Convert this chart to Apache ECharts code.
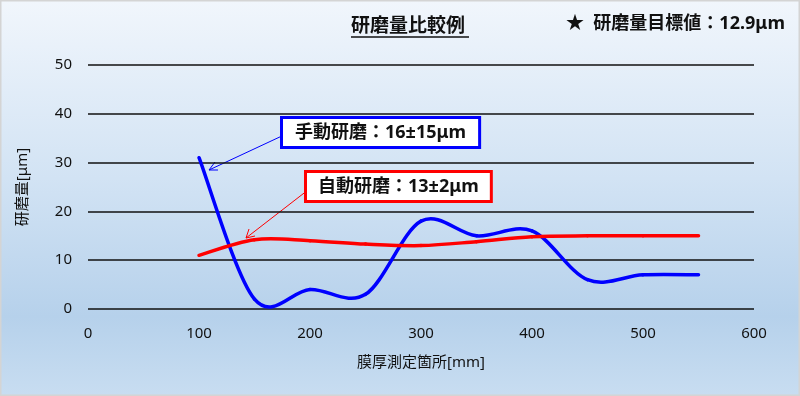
<!DOCTYPE html>
<html><head><meta charset="utf-8">
<script src="https://cdn.jsdelivr.net/npm/echarts@6/dist/echarts.min.js"></script>
<style>html,body{margin:0;padding:0;}#c{width:800px;height:396px;}</style>
</head><body><div id="c"></div>
<script>
const positions = [100, 150, 200, 250, 300, 350, 400, 450, 500, 550];
const manual = [31, 2, 4, 3, 18, 15, 16, 6, 7, 7];
const auto = [11, 14.2, 14, 13.3, 13, 13.8, 14.8, 15, 15, 15];
const yTicks = [0, 10, 20, 30, 40, 50];
const xTicks = [0, 100, 200, 300, 400, 500, 600];
const titleText = '研磨量比較例';
const targetText = '★  研磨量目標値：12.9μm';
const manualLabel = '手動研磨：16±15μm';
const autoLabel = '自動研磨：13±2μm';

const FONT = '"Noto Sans", "Noto Sans CJK JP", sans-serif';
const chart = echarts.init(document.getElementById('c'));

// Smooth curve (Catmull-Rom style, like spreadsheet smoothed lines) drawn through data via axis coords
function smoothSeries(name, xs, ys, color, z) {
  const n = xs.length;
  return {
    type: 'custom', name: name, z: z, silent: true, clip: false,
    data: xs.map((x, i) => [x, ys[i]]),
    encode: {x: 0, y: 1},
    renderItem: function (params, api) {
      const i = params.dataIndex;
      if (i >= n - 1) return {type: 'group', children: []};
      const P = k => { const j = Math.max(0, Math.min(n - 1, k)); return api.coord([xs[j], ys[j]]); };
      const p0 = P(i - 1), p1 = P(i), p2 = P(i + 1), p3 = P(i + 2);
      return {
        type: 'bezierCurve',
        shape: {
          x1: p1[0], y1: p1[1], x2: p2[0], y2: p2[1],
          cpx1: p1[0] + (p2[0] - p0[0]) / 6, cpy1: p1[1] + (p2[1] - p0[1]) / 6,
          cpx2: p2[0] - (p3[0] - p1[0]) / 6, cpy2: p2[1] - (p3[1] - p1[1]) / 6
        },
        style: {stroke: color, lineWidth: 3.5, fill: null, lineCap: 'round'}
      };
    }
  };
}

chart.setOption({
  animation: false,
  backgroundColor: {
    type: 'linear', x: 0, y: 0, x2: 0, y2: 1,
    colorStops: [
      {offset: 0, color: '#f1f6fc'},
      {offset: 0.45, color: '#d2e3f4'},
      {offset: 0.8, color: '#b6d1eb'},
      {offset: 1, color: '#c8ddf1'}
    ]
  },
  title: {
    text: titleText, left: 351, top: 17, padding: 0,
    textStyle: {fontFamily: FONT, fontSize: 19, fontWeight: 'bold', color: '#111'}
  },
  grid: {left: 88, right: 46, top: 65, bottom: 87},
  xAxis: {
    type: 'value', min: xTicks[0], max: xTicks[xTicks.length - 1], interval: 100,
    name: '膜厚測定箇所[mm]', nameLocation: 'middle', nameGap: 46,
    nameTextStyle: {fontFamily: FONT, fontSize: 15, color: '#111'},
    axisLine: {show: false}, axisTick: {show: false}, splitLine: {show: false},
    axisLabel: {fontFamily: FONT, fontSize: 15, color: '#111', margin: 17}
  },
  yAxis: {
    type: 'value', min: yTicks[0], max: yTicks[yTicks.length - 1], interval: 10,
    name: '研磨量[μm]', nameLocation: 'middle', nameGap: 58, nameRotate: 90,
    nameTextStyle: {fontFamily: FONT, fontSize: 15, color: '#111'},
    axisLine: {show: false}, axisTick: {show: false},
    splitLine: {lineStyle: {color: '#111', width: 1.5}},
    axisLabel: {fontFamily: FONT, fontSize: 15, color: '#111', margin: 16}
  },
  series: [
    smoothSeries('手動研磨', positions, manual, '#0000ff', 2),
    smoothSeries('自動研磨', positions, auto, '#ff0000', 3)
  ],
  graphic: [
    {type: 'line', shape: {x1: 351, y1: 37, x2: 469, y2: 37}, style: {stroke: '#111', lineWidth: 1.5}},
    {type: 'text', left: 566, top: 15,
     style: {text: targetText, font: 'bold 18px ' + FONT, fill: '#111'}},
    // blue annotation arrow
    {type: 'line', shape: {x1: 284, y1: 135, x2: 209, y2: 170}, style: {stroke: '#0000ff', lineWidth: 1}},
    {type: 'polyline', shape: {points: [[215, 162], [209, 170], [218, 170]]}, style: {stroke: '#0000ff', lineWidth: 1, fill: null}},
    {type: 'text', x: 283, y: 119, z: 10,
     style: {text: manualLabel, font: 'bold 18px ' + FONT, fill: '#111',
             backgroundColor: '#fff', borderColor: '#0000ff', borderWidth: 3,
             padding: [5, 12, 4, 12]}},
    // red annotation arrow
    {type: 'line', shape: {x1: 308, y1: 190, x2: 246, y2: 238}, style: {stroke: '#ff0000', lineWidth: 1}},
    {type: 'polyline', shape: {points: [[249, 229], [246, 238], [255, 236]]}, style: {stroke: '#ff0000', lineWidth: 1, fill: null}},
    {type: 'text', x: 307, y: 173, z: 10,
     style: {text: autoLabel, font: 'bold 18px ' + FONT, fill: '#111',
             backgroundColor: '#fff', borderColor: '#ff0000', borderWidth: 3,
             padding: [5, 11, 4, 11]}},
    {type: 'rect', shape: {x: 0.5, y: 0.5, width: 799, height: 395}, style: {stroke: '#d4d4d4', lineWidth: 2, fill: null}}
  ]
});
</script></body></html>
